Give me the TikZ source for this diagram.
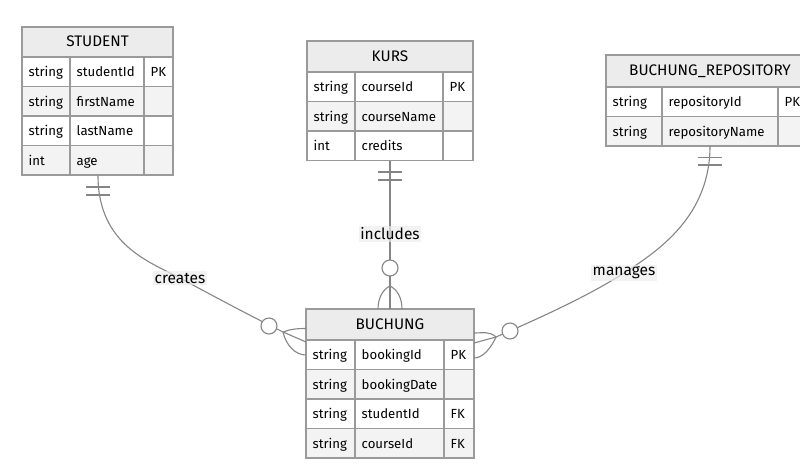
\documentclass[tikz,border=0pt]{standalone}
\usepackage{fontspec}
\setmainfont{Fira Sans}
\definecolor{bordergray}{HTML}{9A9A9A}
\definecolor{headfill}{HTML}{ECECEC}
\definecolor{rowgray}{HTML}{F3F3F3}
\definecolor{linegray}{HTML}{858585}
\begin{document}
\begin{tikzpicture}[x=1pt,y=-1pt,
  cellbox/.style={draw=bordergray, line width=1.2pt, anchor=north west, inner sep=0pt, outer sep=0pt},
  celltext/.style={anchor=base west, inner sep=0pt, font=\fontsize{13.2}{15}\selectfont},
  headtext/.style={anchor=base, inner sep=0pt, font=\fontsize{15.3}{17}\selectfont},
  rel/.style={draw=linegray, line width=1.1pt},
  card/.style={draw=linegray, line width=1.1pt, fill=white},
  rellabel/.style={fill=headfill, fill opacity=0.7, text opacity=1, inner sep=1.5pt, font=\fontsize{15.5}{17}\selectfont}]
\useasboundingbox (0,0) rectangle (800,472);
\newcommand{\ecell}[7]{%
  \node[cellbox, fill=#6, minimum width=#4pt, minimum height=#5pt] (#1) at (#2,#3) {};
  \node[celltext] (#1t) at ([xshift=6.5pt,yshift=-4.8pt]#1.west) {#7};}
\newcommand{\ehead}[6]{%
  \node[cellbox, fill=headfill, minimum width=#4pt, minimum height=#5pt] (#1) at (#2,#3) {};
  \node[headtext] (#1t) at ([yshift=-4.8pt]#1.center) {#6};}
% ---------- STUDENT ----------
\ehead{sh}{22}{27}{151}{30}{STUDENT}
\ecell{s1a}{22}{57}{48}{29.5}{white}{string}
\ecell{s1b}{70}{57}{74}{29.5}{white}{studentId}
\ecell{s1c}{144}{57}{29}{29.5}{white}{PK}
\ecell{s2a}{22}{86.5}{48}{29.5}{rowgray}{string}
\ecell{s2b}{70}{86.5}{74}{29.5}{rowgray}{firstName}
\ecell{s2c}{144}{86.5}{29}{29.5}{rowgray}{}
\ecell{s3a}{22}{116}{48}{29.5}{white}{string}
\ecell{s3b}{70}{116}{74}{29.5}{white}{lastName}
\ecell{s3c}{144}{116}{29}{29.5}{white}{}
\ecell{s4a}{22}{145.5}{48}{29.5}{rowgray}{int}
\ecell{s4b}{70}{145.5}{74}{29.5}{rowgray}{age}
\ecell{s4c}{144}{145.5}{29}{29.5}{rowgray}{}
% ---------- KURS ----------
\ehead{kh}{307}{41}{166}{31}{KURS}
\ecell{k1a}{307}{72}{48}{29.5}{white}{string}
\ecell{k1b}{355}{72}{88}{29.5}{white}{courseId}
\ecell{k1c}{443}{72}{30}{29.5}{white}{PK}
\ecell{k2a}{307}{101.5}{48}{29.5}{rowgray}{string}
\ecell{k2b}{355}{101.5}{88}{29.5}{rowgray}{courseName}
\ecell{k2c}{443}{101.5}{30}{29.5}{rowgray}{}
\ecell{k3a}{307}{131}{48}{29.5}{white}{int}
\ecell{k3b}{355}{131}{88}{29.5}{white}{credits}
\ecell{k3c}{443}{131}{30}{29.5}{white}{}
% ---------- BUCHUNG_REPOSITORY ----------
\ehead{rh}{606}{55}{208}{32}{BUCHUNG\_REPOSITORY}
\ecell{r1a}{606}{87}{56}{29.5}{white}{string}
\ecell{r1b}{662}{87}{116}{29.5}{white}{repositoryId}
\ecell{r1c}{778}{87}{36}{29.5}{white}{PK}
\ecell{r2a}{606}{116.5}{56}{29.5}{rowgray}{string}
\ecell{r2b}{662}{116.5}{116}{29.5}{rowgray}{repositoryName}
\ecell{r2c}{778}{116.5}{36}{29.5}{rowgray}{}
% ---------- BUCHUNG ----------
\ehead{bh}{306}{309}{168}{31}{BUCHUNG}
\ecell{b1a}{306}{340}{49}{29.5}{white}{string}
\ecell{b1b}{355}{340}{89}{29.5}{white}{bookingId}
\ecell{b1c}{444}{340}{30}{29.5}{white}{PK}
\ecell{b2a}{306}{369.5}{49}{29.5}{rowgray}{string}
\ecell{b2b}{355}{369.5}{89}{29.5}{rowgray}{bookingDate}
\ecell{b2c}{444}{369.5}{30}{29.5}{rowgray}{}
\ecell{b3a}{306}{399}{49}{29.5}{white}{string}
\ecell{b3b}{355}{399}{89}{29.5}{white}{studentId}
\ecell{b3c}{444}{399}{30}{29.5}{white}{FK}
\ecell{b4a}{306}{428.5}{49}{29.5}{rowgray}{string}
\ecell{b4b}{355}{428.5}{89}{29.5}{rowgray}{courseId}
\ecell{b4c}{444}{428.5}{30}{29.5}{rowgray}{FK}
% ---------- coordinates ----------
\coordinate (cS) at (98,175.5);
\coordinate (cSP) at (283,332);
\coordinate (cK) at (390,160.5);
\coordinate (cKP) at (390,286);
\coordinate (cR) at (710,146);
\coordinate (cRP) at (496,337);
% ---------- creates ----------
\draw[rel] (cS) .. controls (98,245) and (150,262) .. (180,278)
  .. controls (215,297) and (245,313) .. (cSP);
\draw[rel] (86,187) -- (110,187) (86,195) -- (110,195);
\draw[rel] (cSP) -- (306,342);
\draw[rel] (cSP) .. controls (290,329) and (298,328.5) .. (306,328.5);
\draw[rel] (cSP) .. controls (286,345) and (295,355) .. (306,355);
\node[card, circle, minimum size=16pt, inner sep=0pt] (oS) at (269,326) {};
\node[rellabel] (lcreates) at (180,278) {creates};
% ---------- includes ----------
\draw[rel] (cK) -- (390,309);
\draw[rel] (378,172) -- (402,172) (378,180) -- (402,180);
\draw[rel] (cKP) .. controls (382,290) and (378,299) .. (378,309);
\draw[rel] (cKP) .. controls (398,290) and (402,299) .. (402,309);
\node[card, circle, minimum size=16pt, inner sep=0pt] (oK) at (390,268) {};
\node[rellabel] (lincludes) at (390,234) {includes};
% ---------- manages ----------
\draw[rel] (cR) .. controls (710,215) and (660,250) .. (624,273)
  .. controls (590,295) and (540,318) .. (cRP);
\draw[rel] (698,157.5) -- (722,157.5) (698,165) -- (722,165);
\draw[rel] (cRP) -- (474,343);
\draw[rel] (cRP) .. controls (490,331) and (482,333) .. (474,333);
\draw[rel] (cRP) .. controls (491,348) and (483,358) .. (474,358);
\node[card, circle, minimum size=16pt, inner sep=0pt] (oR) at (510,331) {};
\node[rellabel] (lmanages) at (624,273) {manages};
\end{tikzpicture}
\end{document}
